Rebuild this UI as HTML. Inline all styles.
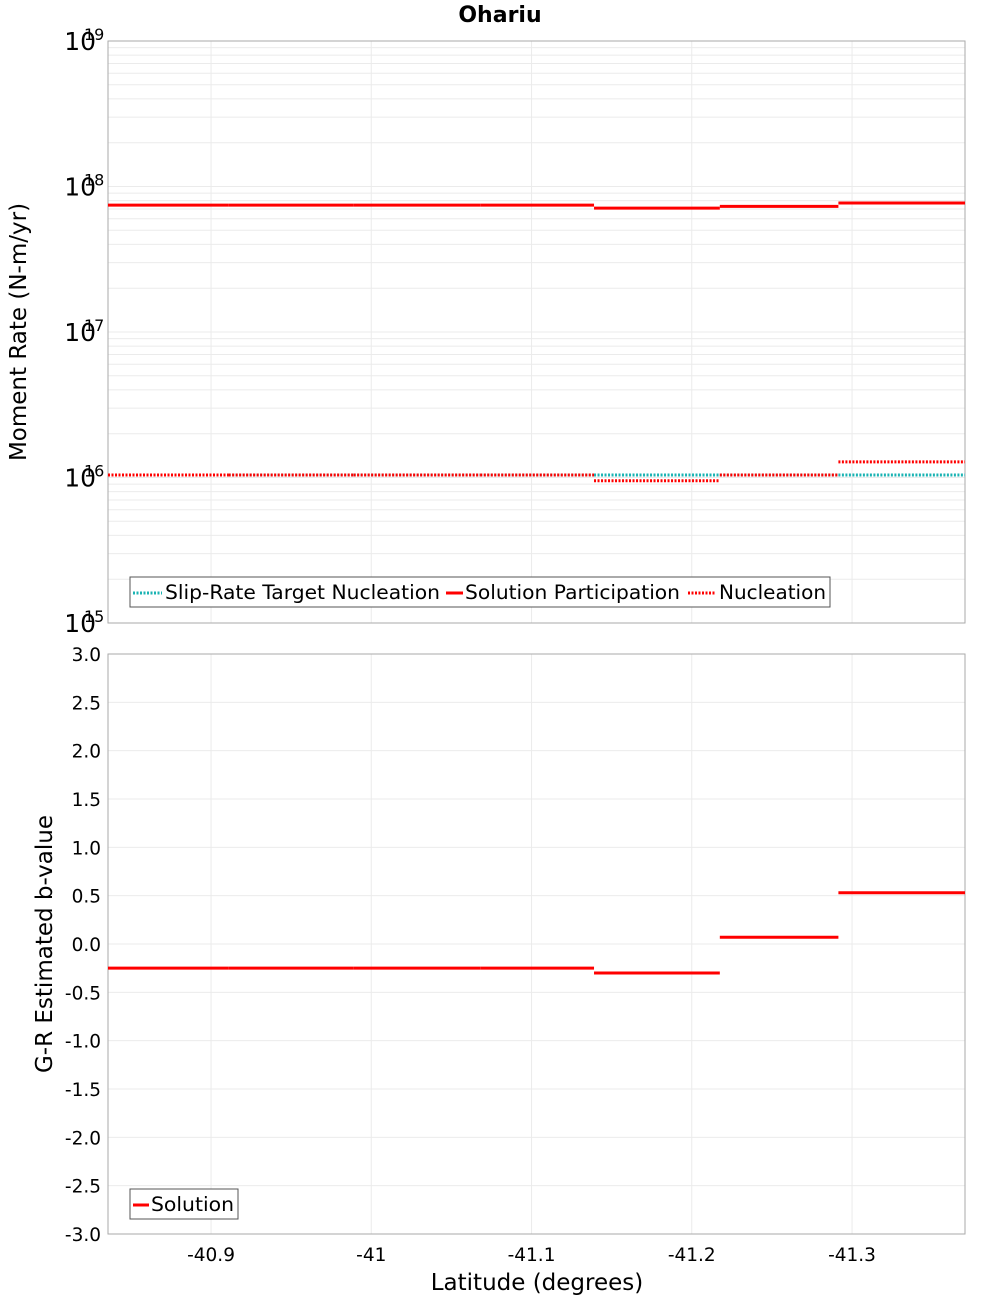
<!DOCTYPE html>
<html><head><meta charset="utf-8"><style>
body{margin:0;background:#fff;width:1000px;height:1300px;overflow:hidden;font-family:"DejaVu Sans","Liberation Sans",sans-serif}
</style></head><body>
<svg id="chart" width="1000" height="1300" xmlns="http://www.w3.org/2000/svg" font-family="DejaVu Sans, Liberation Sans, sans-serif"></svg>
<script>
const boundaries = [-40.8357, -40.911, -40.989, -41.068, -41.139, -41.2175, -41.2915, -41.3705];
const participation = [7.45e17, 7.45e17, 7.45e17, 7.45e17, 7.1e17, 7.3e17, 7.7e17];
const nucleation = [1.04e16, 1.04e16, 1.04e16, 1.04e16, 9.5e15, 1.04e16, 1.28e16];
const targetNucleation = [1.04e16, 1.04e16, 1.04e16, 1.04e16, 1.04e16, 1.04e16, 1.04e16];
const bValues = [-0.25, -0.25, -0.25, -0.25, -0.30, 0.07, 0.53];
const xTicks = [-40.9, -41, -41.1, -41.2, -41.3];
const xTickLabels = ["-40.9", "-41", "-41.1", "-41.2", "-41.3"];
const logTicks = [15, 16, 17, 18, 19];
const bTicks = [3.0, 2.5, 2.0, 1.5, 1.0, 0.5, 0.0, -0.5, -1.0, -1.5, -2.0, -2.5, -3.0];

const svg = document.getElementById('chart');
const NS = 'http://www.w3.org/2000/svg';
const L = 108, R = 965, T1 = 41, B1 = 623, T2 = 654, B2 = 1234;
const X0 = -40.8357, X1 = -41.3705;
const xs = v => L + (v - X0) / (X1 - X0) * (R - L);
const y1 = v => B1 - (Math.log10(v) - 15) / 4 * (B1 - T1);
const y1e = e => B1 - (e - 15) / 4 * (B1 - T1);
const y2 = v => B2 - (v + 3) / 6 * (B2 - T2);
function mk(tag, attrs, parent) {
  const e = document.createElementNS(NS, tag);
  for (const k in attrs) e.setAttribute(k, attrs[k]);
  (parent || svg).appendChild(e);
  return e;
}
function txt(s, attrs, parent) { const e = mk('text', attrs, parent); e.textContent = s; return e; }

let t = txt('Ohariu', {x: 500, y: 22, 'text-anchor': 'middle', 'font-size': 22, 'font-weight': 'bold'});



const g1 = mk('g', {});


for (let e = 15; e < 19; e++) for (let m = 1; m < 10; m++) {
  const y = y1(m * Math.pow(10, e));
  mk('line', {x1: L, x2: R, y1: y, y2: y, stroke: '#ebebeb', 'stroke-width': 1}, g1);
}
const g2 = mk('g', {});


bTicks.forEach(v => mk('line', {x1: L, x2: R, y1: y2(v), y2: y2(v), stroke: '#ebebeb'}, g2));
xTicks.forEach(v => {
  mk('line', {x1: xs(v), x2: xs(v), y1: T1, y2: B1, stroke: '#ebebeb'}, g1);
  mk('line', {x1: xs(v), x2: xs(v), y1: T2, y2: B2, stroke: '#ebebeb'}, g2);
});

let f = mk('rect', {x: L, y: T1, width: R - L, height: B1 - T1, fill: 'none', stroke: '#aaa'});


f = mk('rect', {x: L, y: T2, width: R - L, height: B2 - T2, fill: 'none', stroke: '#aaa'});



logTicks.forEach(e => {
  const g = mk('g', {});
  
  
  txt('10', {x: 96, y: y1e(e) + 9, 'text-anchor': 'end', 'font-size': 25}, g);
  txt(String(e), {x: 84, y: y1e(e) - 1, 'font-size': 16}, g);
});
bTicks.forEach(v => {
  const e = txt(v.toFixed(1), {x: 101, y: y2(v) + 7, 'text-anchor': 'end', 'font-size': 18.5});
  
  
});
xTicks.forEach((v, i) => {
  const e = txt(xTickLabels[i], {x: xs(v), y: 1261, 'text-anchor': 'middle', 'font-size': 18.5});
  
  
});
t = txt('Latitude (degrees)', {x: 537, y: 1290, 'text-anchor': 'middle', 'font-size': 23});


t = txt('Moment Rate (N-m/yr)', {x: 0, y: 0, 'text-anchor': 'middle', 'font-size': 23, transform: 'translate(26,332) rotate(-90)'});


t = txt('G-R Estimated b-value', {x: 0, y: 0, 'text-anchor': 'middle', 'font-size': 23, transform: 'translate(52,944) rotate(-90)'});



function steps(vals, yf, color, dash, name) {
  const g = mk('g', {});
  
  
  vals.forEach((v, i) => {
    const a = {x1: xs(boundaries[i]), x2: xs(boundaries[i + 1]), y1: yf(v), y2: yf(v), stroke: color, 'stroke-width': 3};
    if (dash) a['stroke-dasharray'] = '2,1.5';
    mk('line', a, g);
  });
}
steps(participation, y1, '#ff0000', null, 'solution-participation-series');
steps(targetNucleation, y1, '#1ab3b3', true, 'slip-rate-target-nucleation-series');
steps(nucleation, y1, '#ff0000', true, 'nucleation-series');
steps(bValues, y2, '#ff0000', null, 'b-value-solution-series');

let lg = mk('g', {});


mk('rect', {x: 130, y: 577, width: 700, height: 30, fill: '#fff', stroke: '#555'}, lg);
mk('line', {x1: 133, x2: 162, y1: 593, y2: 593, stroke: '#1ab3b3', 'stroke-width': 3, 'stroke-dasharray': '2,1.5'}, lg);
txt('Slip-Rate Target Nucleation', {x: 165, y: 599, 'font-size': 19.5, textLength: 275, lengthAdjust: 'spacingAndGlyphs'}, lg);
mk('line', {x1: 446, x2: 463, y1: 593, y2: 593, stroke: '#ff0000', 'stroke-width': 3}, lg);
txt('Solution Participation', {x: 465, y: 599, 'font-size': 19.5, textLength: 215, lengthAdjust: 'spacingAndGlyphs'}, lg);
mk('line', {x1: 688, x2: 716, y1: 593, y2: 593, stroke: '#ff0000', 'stroke-width': 3, 'stroke-dasharray': '2,1.5'}, lg);
txt('Nucleation', {x: 719, y: 599, 'font-size': 19.5, textLength: 107, lengthAdjust: 'spacingAndGlyphs'}, lg);

lg = mk('g', {});


mk('rect', {x: 130, y: 1189, width: 108, height: 30, fill: '#fff', stroke: '#555'}, lg);
mk('line', {x1: 133, x2: 149, y1: 1205, y2: 1205, stroke: '#ff0000', 'stroke-width': 3}, lg);
txt('Solution', {x: 151, y: 1211, 'font-size': 19.5, textLength: 83, lengthAdjust: 'spacingAndGlyphs'}, lg);
</script>
</body></html>
